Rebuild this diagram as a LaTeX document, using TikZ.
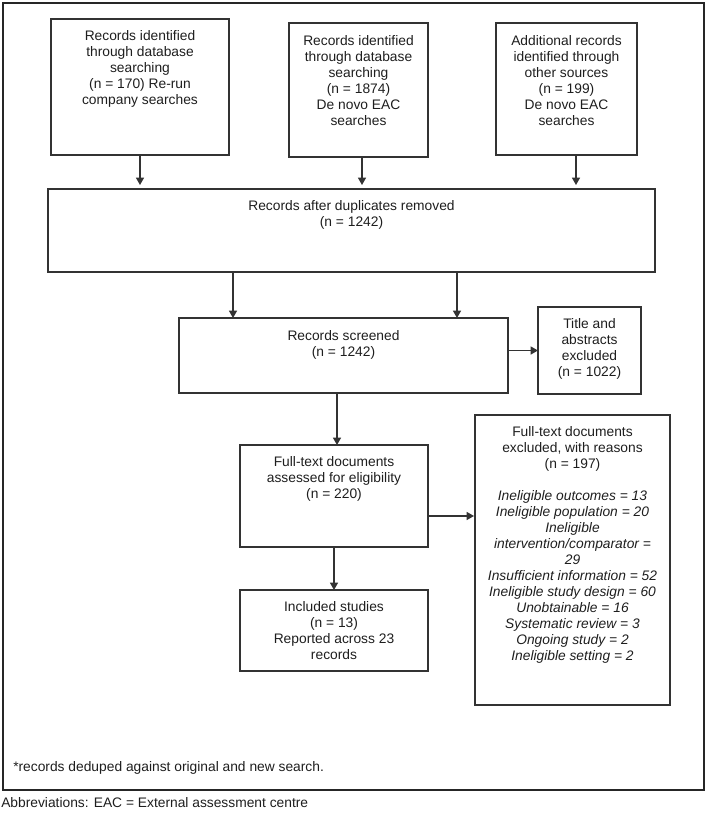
\documentclass[tikz,border=0pt]{standalone}
\usepackage{fontspec}
\setmainfont{Liberation Sans}
\usetikzlibrary{arrows.meta,calc}
\newdimen\px \px=0.75pt
\definecolor{ink}{HTML}{1E1E1E}
\definecolor{edge}{HTML}{333333}
\begin{document}
\begin{tikzpicture}[x=0.75pt,y=-0.75pt,
  box/.style={draw=edge, line width=1pt, inner sep=0pt, outer sep=0pt},
  txt/.style={anchor=north, inner sep=0pt, align=center, text=ink,
    font=\fontsize{10.35}{12}\selectfont},
  note/.style={anchor=west, inner sep=0pt, text=ink,
    font=\fontsize{10.35}{12}\selectfont},
  arr/.style={draw=edge, line width=1pt, -{Triangle[length=5.5pt,width=6pt]}},
  frame/.style={draw=black!85, line width=1.1pt, inner sep=0pt}]
\useasboundingbox (0,0) rectangle (708,818);
\node[frame, minimum width=701\px, minimum height=787\px] (fr) at (353.5,396.5) {};

\node[box, minimum width=178\px, minimum height=136\px] (b1) at (140,87) {};
\node[box, minimum width=139\px, minimum height=134\px] (b2) at (358.5,90) {};
\node[box, minimum width=141\px, minimum height=132\px] (b3) at (566.5,89) {};
\node[box, minimum width=607\px, minimum height=83\px] (dd) at (351.5,230.5) {};
\node[box, minimum width=329\px, minimum height=75\px] (sc) at (343.5,355.5) {};
\node[box, minimum width=103\px, minimum height=87\px] (ti) at (589.5,350.5) {};
\node[box, minimum width=188\px, minimum height=102\px] (ft) at (334,496) {};
\node[box, minimum width=195\px, minimum height=290\px] (ex) at (572.5,560) {};
\node[box, minimum width=188\px, minimum height=81\px] (in) at (334,630.5) {};

\node[txt] (t1) at ($(b1.north)+(0,11)$) {Records identified\\through database\\searching\\(n = 170) Re-run\\company searches};
\node[txt] (t2) at ($(b2.north)+(0,12)$) {Records identified\\through database\\searching\\(n = 1874)\\De novo EAC\\searches};
\node[txt] (t3) at ($(b3.north)+(0,12)$) {Additional records\\identified through\\other sources\\(n = 199)\\De novo EAC\\searches};
\node[txt] (tdd) at ($(dd.north)+(0,11)$) {Records after duplicates removed\\(n = 1242)};
\node[txt] (tsc) at ($(sc.north)+(0,12)$) {Records screened\\(n = 1242)};
\node[txt] (tti) at ($(ti.north)+(0,11)$) {Title and\\abstracts\\excluded\\(n = 1022)};
\node[txt] (tft) at ($(ft.north)+(0,11)$) {Full-text documents\\assessed for eligibility\\(n = 220)};
\node[txt] (tex) at ($(ex.north)+(0,11)$) {Full-text documents\\excluded, with reasons\\(n = 197)\\[12pt]
  \itshape Ineligible outcomes = 13\\\itshape Ineligible population = 20\\\itshape Ineligible\\\itshape intervention/comparator =\\\itshape 29\\\itshape Insufficient information = 52\\\itshape Ineligible study design = 60\\\itshape Unobtainable = 16\\\itshape Systematic review = 3\\\itshape Ongoing study = 2\\\itshape Ineligible setting = 2};
\node[txt] (tin) at ($(in.north)+(0,11)$) {Included studies\\(n = 13)\\Reported across 23\\records};

\node[note] (fn) at (13,768) {*records deduped against original and new search.};
\node[note] (ab) at (1,803) {Abbreviations: EAC = External assessment centre};

\coordinate (x2) at (362,0);
\coordinate (x3) at (576,0);
\coordinate (xa) at (233,0);
\coordinate (xb) at (457,0);
\coordinate (xc) at (337,0);
\coordinate (ye) at (0,516);

\draw[arr, shorten >=4\px] (b1.south) -- (b1.south |- dd.north);
\draw[arr, shorten >=4\px] (b2.south -| x2) -- (dd.north -| x2);
\draw[arr, shorten >=4\px] (b3.south -| x3) -- (dd.north -| x3);
\draw[arr] (dd.south -| xa) -- (sc.north -| xa);
\draw[arr] (dd.south -| xb) -- (sc.north -| xb);
\draw[arr] (sc.east |- ti.west) -- (ti.west);
\draw[arr] (sc.south -| xc) -- (ft.north -| xc);
\draw[arr, shorten >=1\px] (ft.east |- ye) -- (ex.west |- ye);
\draw[arr] (ft.south) -- (in.north);
\end{tikzpicture}
\end{document}
